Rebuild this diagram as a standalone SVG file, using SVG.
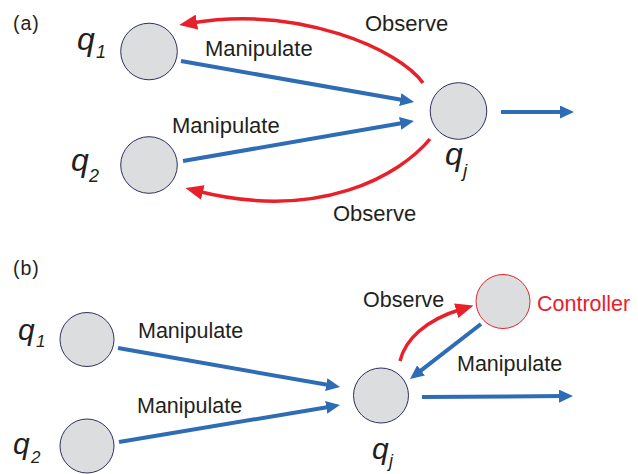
<svg xmlns="http://www.w3.org/2000/svg" width="638" height="474" viewBox="0 0 638 474">
<style>
.node{fill:#DCDDDF;stroke:#2F3060;stroke-width:1}
.ctrl{fill:#DCDDDF;stroke:#E8202A;stroke-width:1}
.t{font-family:"Liberation Sans",Arial,sans-serif;fill:#231F20}
.q{font-family:"Liberation Sans",Arial,sans-serif;font-style:italic;fill:#231F20}
.blue{fill:none;stroke:#2E6DB5;stroke-width:4}
.red{fill:none;stroke:#E8202A;stroke-width:3.5}
</style>
<defs>
<marker id="ab" markerUnits="userSpaceOnUse" viewBox="0 0 14 13" markerWidth="14" markerHeight="13" refX="4" refY="6.5" orient="auto"><path d="M0,0 L14,6.5 L0,13 z" fill="#2E6DB5"/></marker>
<marker id="ar" markerUnits="userSpaceOnUse" viewBox="0 0 18 15" markerWidth="18" markerHeight="15" refX="6" refY="7.5" orient="auto"><path d="M0,0 L18,7.5 L0,15 z" fill="#E8202A"/></marker>
</defs>

<text class="t" x="13" y="30" font-size="19.5" letter-spacing="1">(a)</text>
<text class="t" x="13" y="275" font-size="19.5" letter-spacing="1">(b)</text>

<g id="connectors">
<line class="blue" x1="181" y1="61" x2="404.2" y2="100.3" marker-end="url(#ab)"/>
<line class="blue" x1="183" y1="161" x2="404.1" y2="122.7" marker-end="url(#ab)"/>
<line class="blue" x1="501" y1="112" x2="564" y2="112" marker-end="url(#ab)"/>
<path class="red" d="M423,83 C400,50 300,5 191,23" marker-end="url(#ar)"/>
<path class="red" d="M430,139 C400,175 320,222 197,191" marker-end="url(#ar)"/>
<line class="blue" x1="118" y1="348" x2="330.2" y2="385.3" marker-end="url(#ab)"/>
<line class="blue" x1="119" y1="442" x2="330.1" y2="406.7" marker-end="url(#ab)"/>
<line class="blue" x1="481" y1="324" x2="417.9" y2="372.9" marker-end="url(#ab)"/>
<line class="blue" x1="422" y1="397" x2="563" y2="396.1" marker-end="url(#ab)"/>
<path class="red" d="M400,361 C405,340 425,320 462,309" marker-end="url(#ar)"/>
<text class="t" x="205" y="56" font-size="22">Manipulate</text>
<text class="t" x="172" y="133" font-size="22">Manipulate</text>
<text class="t" x="365" y="31" font-size="22">Observe</text>
<text class="t" x="333" y="221" font-size="22">Observe</text>
<text class="t" x="138" y="338" font-size="21.5">Manipulate</text>
<text class="t" x="137" y="413" font-size="21.5">Manipulate</text>
<text class="t" x="457" y="371" font-size="21.5">Manipulate</text>
<text class="t" x="363" y="307" font-size="21.5">Observe</text>
</g>

<g id="a-q1">
<circle class="node" cx="149" cy="51.5" r="28.3"/>
<text class="q" x="77" y="50" font-size="32">q<tspan font-size="18" x="96" y="58">1</tspan></text>
</g>
<g id="a-q2">
<circle class="node" cx="149" cy="165" r="28.3"/>
<text class="q" x="71" y="171" font-size="32">q<tspan font-size="18" x="89" y="182">2</tspan></text>
</g>
<g id="a-qj">
<circle class="node" cx="458.5" cy="111" r="28.3"/>
<text class="q" x="445" y="165" font-size="32">q<tspan font-size="19" x="463" y="177">j</tspan></text>
</g>

<g id="b-q1">
<circle class="node" cx="87" cy="339.5" r="27"/>
<text class="q" x="18" y="340" font-size="30">q<tspan font-size="17" x="36" y="347">1</tspan></text>
</g>
<g id="b-q2">
<circle class="node" cx="87" cy="446" r="27"/>
<text class="q" x="13" y="454" font-size="30">q<tspan font-size="17" x="31" y="463">2</tspan></text>
</g>
<g id="b-qj">
<circle class="node" cx="381" cy="395.5" r="27.5"/>
<text class="q" x="372" y="459" font-size="30">q<tspan font-size="18" x="389" y="467">j</tspan></text>
</g>
<g id="b-controller">
<circle class="ctrl" cx="503" cy="301.5" r="27"/>
<text class="t" x="537" y="311" font-size="21.5" style="fill:#E8202A">Controller</text>
</g>
</svg>
